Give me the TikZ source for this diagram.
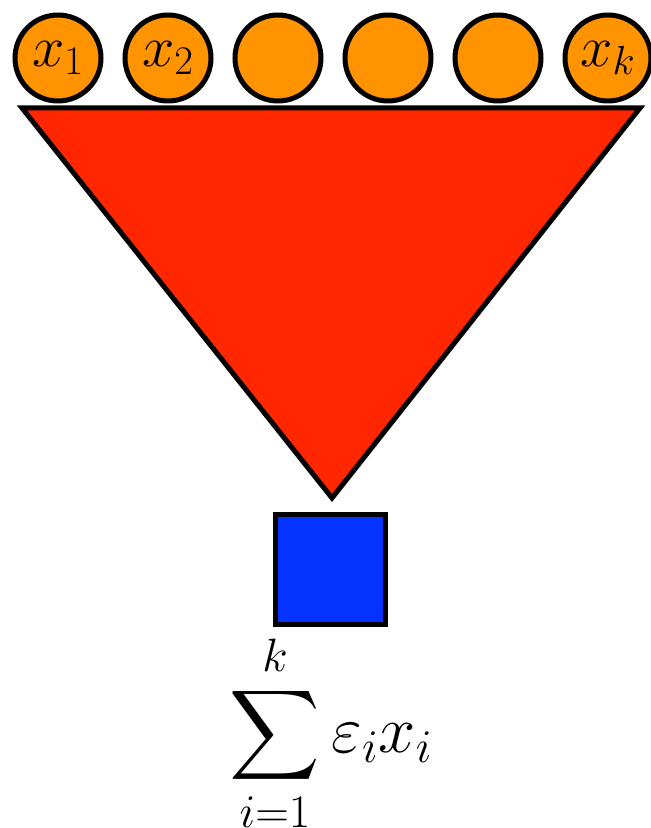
\RequirePackage{fix-cm}
\documentclass[tikz,border=0pt]{standalone}
\usepackage{amsmath, amssymb}
\usepackage{graphicx}
\usetikzlibrary{positioning, calc}

\definecolor{tangerine}{RGB}{255,147,0}
\definecolor{maraschino}{RGB}{255,38,0}
\definecolor{blueberry}{RGB}{4,51,255}

\newcommand{\funnelsum}{\mathop{\vcenter{\hbox{\scalebox{0.94}{$\displaystyle\sum$}}}}\limits}

\tikzset{
  inputnode/.style={draw, circle, fill=tangerine, minimum size=1.72cm, inner sep=0pt,
                    font=\fontsize{33}{40}\selectfont},
  outputbox/.style={draw, fill=blueberry, minimum size=2.2cm, inner sep=0pt}
}

\begin{document}
\begin{tikzpicture}[line width=0.1cm, line join=miter]
    \useasboundingbox (0,0) rectangle (13.02,16.56);
    % inputs on top
    \foreach \i/\lab in {1/x_1, 2/x_2, 3/{}, 4/{}, 5/{}, 6/x_k}{
      \node[inputnode] (in\i) at ({1.16+2.2*(\i-1)},15.40) {$\lab$};
    }
    % the funnel
    \coordinate (topleft) at (0.44,14.40);
    \coordinate (topright) at (12.80,14.40);
    \coordinate (apex) at (6.64,6.60);
    \draw[fill=maraschino] (topleft) -- (topright) -- (apex) -- cycle;

    \node[outputbox] (out) at (6.61,5.17) {};
    \node[font=\fontsize{38}{45}\selectfont, inner sep=0pt] (sum) at (6.62,1.89)
      {$\funnelsum_{\scriptstyle i=1}^{\scriptstyle k}\varepsilon_i x_i$};
\end{tikzpicture}
\end{document}
